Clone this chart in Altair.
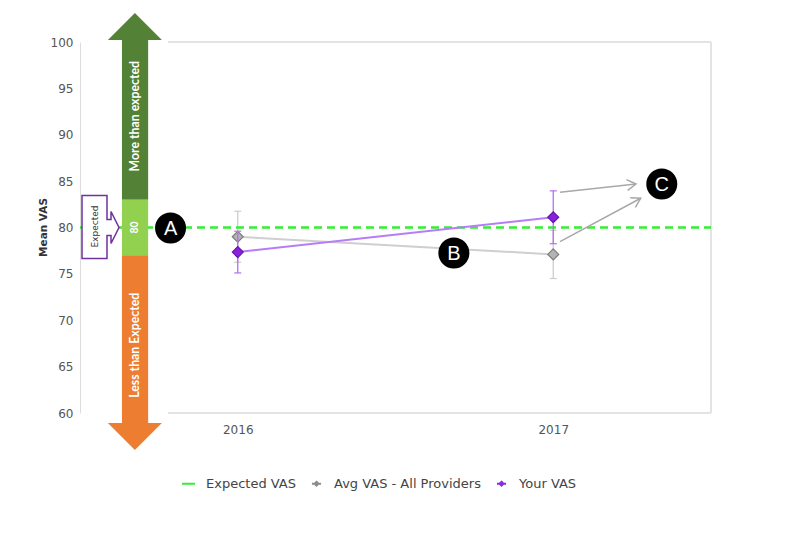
import altair as alt
import pandas as pd

# ---------------- data ----------------
years = [2016, 2017]
avg_vas = [79.0, 77.1]
avg_err = [2.75, 2.6]
your_vas = [77.35, 81.1]
your_err = [2.25, 2.85]
expected_vas = [80]
expected_low = [77]
expected_high = [83]
y_ticks = [60, 65, 70, 75, 80, 85, 90, 95, 100]
x_ticks = [2016, 2017]
legend_names = ["Expected VAS", "Avg VAS - All Providers", "Your VAS"]
legend_colors = ["#33ee33", "#8c8c8c", "#8a2be2"]
band_labels = ["More than expected", "80", "Less than Expected"]
band_colors = ["#538135", "#92d050", "#ed7d31"]
marker_letters = ["A", "B", "C"]

# ---------------- layout (annotation positions, in axis units) ----------------
X_DOMAIN = [2015.5, 2017.5]
Y_DOMAIN = [60, 100]
FRAME_LEFT = 2015.779
ARROW_X = 2015.674
SHAFT_L, SHAFT_R = 2015.633, 2015.716
HEAD_TOP_BASE, HEAD_BOT_BASE = 100.22, 58.92
TXT_Y = [92.0, 80.0, 67.3]
CALLOUT = (2015.5634, 80.0)
CALLOUT_TXT_X = 2015.5476
MARK_POS = [(2015.787, 79.95), (2016.685, 77.25), (2017.344, 84.69)]
C_ARROWS = [(2017.0214, 83.80, 2017.2623, 84.69, 353.8),
            (2017.0214, 78.47, 2017.2772, 83.15, 331.7)]

FONT = "DejaVu Sans"

xs = alt.Scale(domain=X_DOMAIN, nice=False, zero=False)
ys = alt.Scale(domain=Y_DOMAIN, nice=False, zero=False)
x_axis = alt.Axis(values=x_ticks, format="d", title=None, domain=False, ticks=False,
                  tickSize=0, grid=False, labelPadding=11, labelFontSize=12,
                  labelColor="#555555", labelFont=FONT)
y_axis = alt.Axis(values=y_ticks, title="Mean VAS", domain=True, domainColor="#dcdcdc",
                  domainWidth=1, ticks=False, tickSize=0, grid=False, labelPadding=7,
                  labelFontSize=12, labelColor="#555555", labelFont=FONT,
                  titleFont=FONT, titleFontSize=10.5, titleFontWeight="bold", titleColor="#333333",
                  titleAngle=270, titleX=-37, titleY=185, titleAlign="center",
                  titleBaseline="middle")


def X(f="x"):
    return alt.X(f"{f}:Q", scale=xs, axis=x_axis)


def Y(f="y"):
    return alt.Y(f"{f}:Q", scale=ys, axis=y_axis)


# ---------------- tables ----------------
avg_df = pd.DataFrame({"x": years, "y": avg_vas,
                       "lo": [v - e for v, e in zip(avg_vas, avg_err)],
                       "hi": [v + e for v, e in zip(avg_vas, avg_err)]})
your_df = pd.DataFrame({"x": years, "y": your_vas,
                        "lo": [v - e for v, e in zip(your_vas, your_err)],
                        "hi": [v + e for v, e in zip(your_vas, your_err)]})

frame_df = pd.DataFrame({"x": [FRAME_LEFT, FRAME_LEFT, X_DOMAIN[1]],
                         "x2": [X_DOMAIN[1], X_DOMAIN[1], X_DOMAIN[1]],
                         "y": [Y_DOMAIN[1], Y_DOMAIN[0], Y_DOMAIN[0]],
                         "y2": [Y_DOMAIN[1], Y_DOMAIN[0], Y_DOMAIN[1]]})
frame = alt.Chart(frame_df).mark_rule(color="#e3e3e3", strokeWidth=2).encode(
    x=X(), x2="x2:Q", y=Y(), y2="y2:Q")


def series(df, line_color, err_color, fill, stroke):
    err = alt.Chart(df).mark_rule(color=err_color, strokeWidth=1.3).encode(
        x=X(), y=Y("lo"), y2="hi:Q")
    cap_lo = alt.Chart(df).mark_tick(orient="horizontal", size=7, thickness=1.2,
                                     color=err_color, opacity=1).encode(x=X(), y=Y("lo"))
    cap_hi = alt.Chart(df).mark_tick(orient="horizontal", size=7, thickness=1.2,
                                     color=err_color, opacity=1).encode(x=X(), y=Y("hi"))
    line = alt.Chart(df).mark_line(color=line_color, strokeWidth=2).encode(x=X(), y=Y())
    pts = alt.Chart(df).mark_point(shape="diamond", size=120, filled=True, fill=fill,
                                   stroke=stroke, strokeWidth=1.2, opacity=1).encode(
        x=X(), y=Y())
    return [err, cap_lo, cap_hi, line], pts


avg_layers, avg_pts = series(avg_df, "#cfcfcf", "#cdcdcd", "#b3b3b3", "#7d7d7d")
your_layers, your_pts = series(your_df, "#b77cf7", "#b56ef5", "#8a1fe0", "#6418a8")

exp_df = pd.DataFrame({"x": [X_DOMAIN[0]], "x2": [X_DOMAIN[1]], "y": expected_vas})
exp_line = alt.Chart(exp_df).mark_rule(color="#33ee33", strokeWidth=2.5,
                                       strokeDash=[8, 5]).encode(x=X(), x2="x2:Q", y=Y())

# ---------------- big arrow ----------------
band_y = [HEAD_TOP_BASE, expected_high[0], expected_low[0]]
band_y2 = [expected_high[0], expected_low[0], HEAD_BOT_BASE]
rects = [
    alt.Chart(pd.DataFrame({"x": [SHAFT_L], "x2": [SHAFT_R], "y": [band_y[i]],
                            "y2": [band_y2[i]]})).mark_rect(color=band_colors[i]).encode(
        x=X(), x2="x2:Q", y=Y(), y2="y2:Q")
    for i in range(3)
]
head_up = alt.Chart(pd.DataFrame({"x": [ARROW_X], "y": [HEAD_TOP_BASE]})).mark_point(
    shape="M-1,0L1,0L0,-1Z", size=2916, filled=True, fill=band_colors[0], strokeWidth=0,
    opacity=1).encode(x=X(), y=Y())
head_dn = alt.Chart(pd.DataFrame({"x": [ARROW_X], "y": [HEAD_BOT_BASE]})).mark_point(
    shape="M-1,0L1,0L0,1Z", size=2916, filled=True, fill=band_colors[2], strokeWidth=0,
    opacity=1).encode(x=X(), y=Y())
band_txt = [
    alt.Chart(pd.DataFrame({"x": [ARROW_X], "y": [TXT_Y[i]], "t": [band_labels[i]]})).mark_text(
        angle=270, color="white", font="Lato", fontWeight="bold", align="center",
        baseline="middle", fontSize=(10.5 if i == 1 else 12.3)).encode(
        x=X(), y=Y(), text="t:N")
    for i in range(3)
]

# ---------------- callout ----------------
callout_path = ("M-0.5625,-1L0.21875,-1L0.21875,-0.25L0.34375,-0.25L0.34375,-0.5"
                "L0.59375,0L0.34375,0.5L0.34375,0.25L0.21875,0.25L0.21875,0.96875"
                "L-0.5625,0.96875Z")
callout = alt.Chart(pd.DataFrame({"x": [CALLOUT[0]], "y": [CALLOUT[1]]})).mark_point(
    shape=callout_path, size=4096, filled=True, fill="white", stroke="#7030a0",
    strokeWidth=1.5, opacity=1).encode(x=X(), y=Y())
callout_txt = alt.Chart(pd.DataFrame({"x": [CALLOUT_TXT_X], "y": [80.1], "t": ["Expected"]})
                        ).mark_text(angle=270, font=FONT, fontSize=9, color="#333333",
                                    align="center", baseline="middle").encode(
    x=X(), y=Y(), text="t:N")

# ---------------- markers A B C ----------------
mk_df = pd.DataFrame({"x": [p[0] for p in MARK_POS], "y": [p[1] for p in MARK_POS],
                      "t": marker_letters})
mk_circ = alt.Chart(mk_df).mark_point(shape="circle", size=962, filled=True, fill="black",
                                      strokeWidth=0, opacity=1).encode(x=X(), y=Y())
mk_txt = alt.Chart(mk_df).mark_text(font="Liberation Sans", fontSize=20, color="white",
                                    align="center", baseline="middle", dy=1).encode(
    x=X(), y=Y(), text="t:N")

ca_df = pd.DataFrame({"x": [a[0] for a in C_ARROWS], "y": [a[1] for a in C_ARROWS],
                      "x2": [a[2] for a in C_ARROWS], "y2": [a[3] for a in C_ARROWS],
                      "ang": [a[4] for a in C_ARROWS]})
ca_lines = alt.Chart(ca_df).mark_rule(color="#a8a8a8", strokeWidth=1.5).encode(
    x=X(), y=Y(), x2="x2:Q", y2="y2:Q")
ca_heads = alt.Chart(ca_df).mark_point(shape="M-1,-0.6L0,0L-1,0.6", size=324, filled=False,
                                       stroke="#a8a8a8", strokeWidth=1.5, opacity=1).encode(
    x=X("x2"), y=Y("y2"), angle=alt.Angle("ang:Q", scale=None))

# ---------------- legend ----------------
leg_df = pd.DataFrame({"x": [2016] * 3, "y": [80] * 3, "s": legend_names})
line_diamond = "M-0.7,0L0.7,0M0,-0.3L0.3,0L0,0.3L-0.3,0Z"
leg_opts = dict(title=None, orient="none", legendX=101, legendY=434,
                direction="horizontal", labelFontSize=13, labelFont=FONT,
                labelColor="#444444", symbolSize=169, symbolStrokeWidth=2,
                labelOffset=10, columnPadding=11, symbolOpacity=1, padding=0)
legend_layer = alt.Chart(leg_df).mark_point(filled=False, opacity=0, strokeWidth=2).encode(
    x=X(), y=Y(),
    color=alt.Color("s:N", scale=alt.Scale(domain=legend_names, range=legend_colors),
                    legend=alt.Legend(**leg_opts)),
    shape=alt.Shape("s:N", scale=alt.Scale(domain=legend_names,
                                           range=["stroke", line_diamond, line_diamond]),
                    legend=alt.Legend(**leg_opts)))

chart = alt.layer(
    frame, *avg_layers, avg_pts, exp_line, *your_layers, your_pts,
    *rects, head_up, head_dn, *band_txt, callout, callout_txt,
    ca_lines, ca_heads, mk_circ, mk_txt, legend_layer
).properties(
    width=631, height=371,
    padding={"left": 72, "top": 34, "right": 70, "bottom": 130},
    autosize=alt.AutoSizeParams(type="none"),
    background="white",
).configure_view(stroke=None)

chart.save("out.html", embed_options={"renderer": "svg", "actions": False})
